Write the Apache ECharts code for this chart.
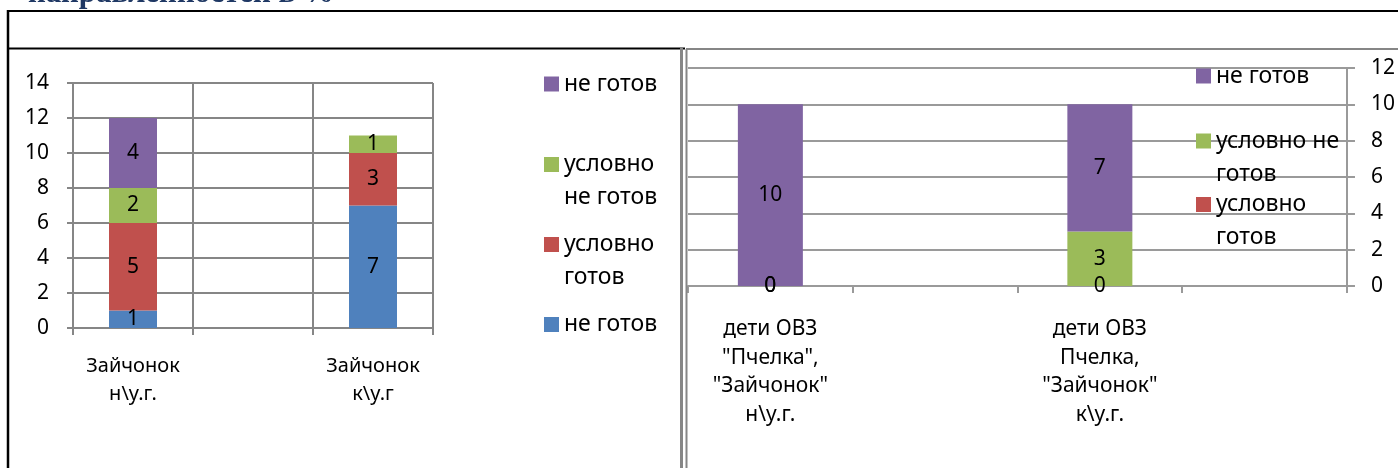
<!DOCTYPE html>
<html>
<head>
<meta charset="utf-8">
<script src="https://cdn.jsdelivr.net/npm/echarts@6/dist/echarts.min.js"></script>
<style>
  html, body { margin: 0; padding: 0; background: #fff; }
  #chart { width: 1398px; height: 468px; }
</style>
</head>
<body>
<div id="chart"></div>
<script>
// левая диаграмма
const leftCategories = ['Зайчонок\nн\\у.г.', '', 'Зайчонок\nк\\у.г'];
const leftNotReady = [1, '-', 7];          // не готов (синий)
const leftCondReady = [5, '-', 3];         // условно готов
const leftCondNotReady = [2, '-', 1];      // условно не готов
const leftNotReadyTop = [4, '-', '-'];     // не готов (фиолетовый)
const leftLegendText = ['не готов', 'условно\nне готов', 'условно\nготов', 'не готов'];

// правая диаграмма
const rightCategories = [
  'дети ОВЗ\n"Пчелка",\n"Зайчонок"\nн\\у.г.', '',
  'дети ОВЗ\nПчелка,\n"Зайчонок"\nк\\у.г.', ''
];
const rightCondReady = [0, '-', 0, '-'];
const rightCondNotReady = [0, '-', 3, '-'];
const rightNotReady = [10, '-', 7, '-'];
const rightLegendText = ['не готов', 'условно не\nготов', 'условно\nготов'];

const BLUE = '#4F81BD', RED = '#C0504D', GREEN = '#9BBB59', PURPLE = '#8064A2';
const FONT = 'Noto Sans';
const FS = 21;
const GRID_GREY = '#868686';

const mChart = echarts.init(document.getElementById('chart'));

const barLabel = {
  show: true,
  position: 'inside',
  color: '#000',
  fontFamily: FONT,
  fontSize: FS
};

const makeBar = (name, data, color, x, y, width) => ({
  name: name,
  type: 'bar',
  stack: 'total' + x,
  xAxisIndex: x,
  yAxisIndex: y,
  barWidth: width,
  data: data,
  itemStyle: { color: color },
  label: barLabel,
  emphasis: { disabled: true }
});

// одна позиция легенды; значок должен стоять у первой строки,
// поэтому у двухстрочных подписей сверху добавлена пустая строка
const legendItem = (name, color, text, left, iconY) => {
  const lines = text.split('\n').length;
  const shown = lines > 1 ? '\n' + text : text;
  const total = lines > 1 ? lines + 1 : 1;
  return {
    left: left,
    top: iconY - total * 33 / 2,
    padding: 0,
    itemWidth: 15,
    itemHeight: 15,
    itemGap: 0,
    icon: 'rect',
    selectedMode: false,
    data: [{ name: name, itemStyle: { color: color } }],
    formatter: () => shown,
    textStyle: { fontFamily: FONT, fontSize: 23, color: '#000', lineHeight: 33 }
  };
};

const axisLineStyle = { color: GRID_GREY, width: 2 };
const rightLineStyle = { color: '#9a9a9a', width: 2 };

const options = {
  animation: false,
  grid: [
    { left: 73, top: 83, width: 360, height: 245 },
    { left: 688, top: 68, width: 659, height: 218 }
  ],
  xAxis: [
    {
      type: 'category',
      gridIndex: 0,
      data: leftCategories,
      axisLine: { lineStyle: axisLineStyle },
      axisTick: { show: true, length: 7, lineStyle: axisLineStyle },
      splitLine: { show: true, lineStyle: axisLineStyle },
      axisLabel: { interval: 0, color: '#000', fontFamily: FONT, fontSize: 20, lineHeight: 28, margin: 24 }
    },
    {
      type: 'category',
      gridIndex: 1,
      data: rightCategories,
      axisLine: { lineStyle: rightLineStyle },
      axisTick: { show: true, length: 7, lineStyle: rightLineStyle },
      splitLine: { show: false },
      axisLabel: { interval: 0, color: '#000', fontFamily: FONT, fontSize: FS, lineHeight: 28.6, margin: 29 }
    }
  ],
  yAxis: [
    {
      type: 'value',
      gridIndex: 0,
      min: 0,
      max: 14,
      interval: 2,
      axisLine: { show: true, lineStyle: axisLineStyle },
      axisTick: { show: true, length: 6, lineStyle: axisLineStyle },
      splitLine: { show: true, lineStyle: axisLineStyle },
      axisLabel: { color: '#000', fontFamily: FONT, fontSize: FS, margin: 24 }
    },
    {
      type: 'value',
      gridIndex: 1,
      position: 'right',
      min: 0,
      max: 12,
      interval: 2,
      axisLine: { show: true, lineStyle: rightLineStyle },
      axisTick: { show: true, length: 8, lineStyle: rightLineStyle },
      splitLine: { show: true, lineStyle: rightLineStyle },
      axisLabel: { color: '#000', fontFamily: FONT, fontSize: FS, margin: 24 }
    }
  ],
  legend: [
    legendItem('не готов', PURPLE, leftLegendText[0], 544, 84),
    legendItem('условно не готов', GREEN, leftLegendText[1], 544, 164.5),
    legendItem('условно готов', RED, leftLegendText[2], 544, 244.5),
    legendItem('не готов', BLUE, leftLegendText[3], 544, 324.5),
    legendItem('не готов', PURPLE, rightLegendText[0], 1196, 76),
    legendItem('условно не готов', GREEN, rightLegendText[1], 1196, 141),
    legendItem('условно готов', RED, rightLegendText[2], 1196, 204.5)
  ],
  series: [
    makeBar('не готов', leftNotReady, BLUE, 0, 0, 48),
    makeBar('условно готов', leftCondReady, RED, 0, 0, 48),
    makeBar('условно не готов', leftCondNotReady, GREEN, 0, 0, 48),
    makeBar('не готов', leftNotReadyTop, PURPLE, 0, 0, 48),
    makeBar('условно готов', rightCondReady, RED, 1, 1, 65),
    makeBar('условно не готов', rightCondNotReady, GREEN, 1, 1, 65),
    makeBar('не готов', rightNotReady, PURPLE, 1, 1, 65)
  ],
  graphic: [
    // заголовок, обрезанный сверху
    {
      type: 'text', left: 28, top: -22, z: 10,
      style: { text: 'направленностей в %', fontFamily: 'Liberation Serif', fontWeight: 'bold', fontSize: 31, fill: '#1F3864' }
    },
    // рамка таблицы
    { type: 'line', z: 10, shape: { x1: 8, y1: 10, x2: 8, y2: 468 }, style: { stroke: '#000', lineWidth: 2.5 } },
    { type: 'line', z: 10, shape: { x1: 7, y1: 11, x2: 1398, y2: 11 }, style: { stroke: '#000', lineWidth: 2 } },
    { type: 'line', z: 10, shape: { x1: 7, y1: 48.5, x2: 685, y2: 48.5 }, style: { stroke: '#000', lineWidth: 2 } },
    // рамка правой диаграммы
    { type: 'line', z: 10, shape: { x1: 681.5, y1: 48, x2: 681.5, y2: 468 }, style: { stroke: GRID_GREY, lineWidth: 3 } },
    { type: 'line', z: 10, shape: { x1: 686.5, y1: 49, x2: 686.5, y2: 468 }, style: { stroke: GRID_GREY, lineWidth: 2 } },
    { type: 'line', z: 10, shape: { x1: 686, y1: 49, x2: 1398, y2: 49 }, style: { stroke: GRID_GREY, lineWidth: 2 } }
  ]
};

mChart.setOption(options);
</script>
</body>
</html>
